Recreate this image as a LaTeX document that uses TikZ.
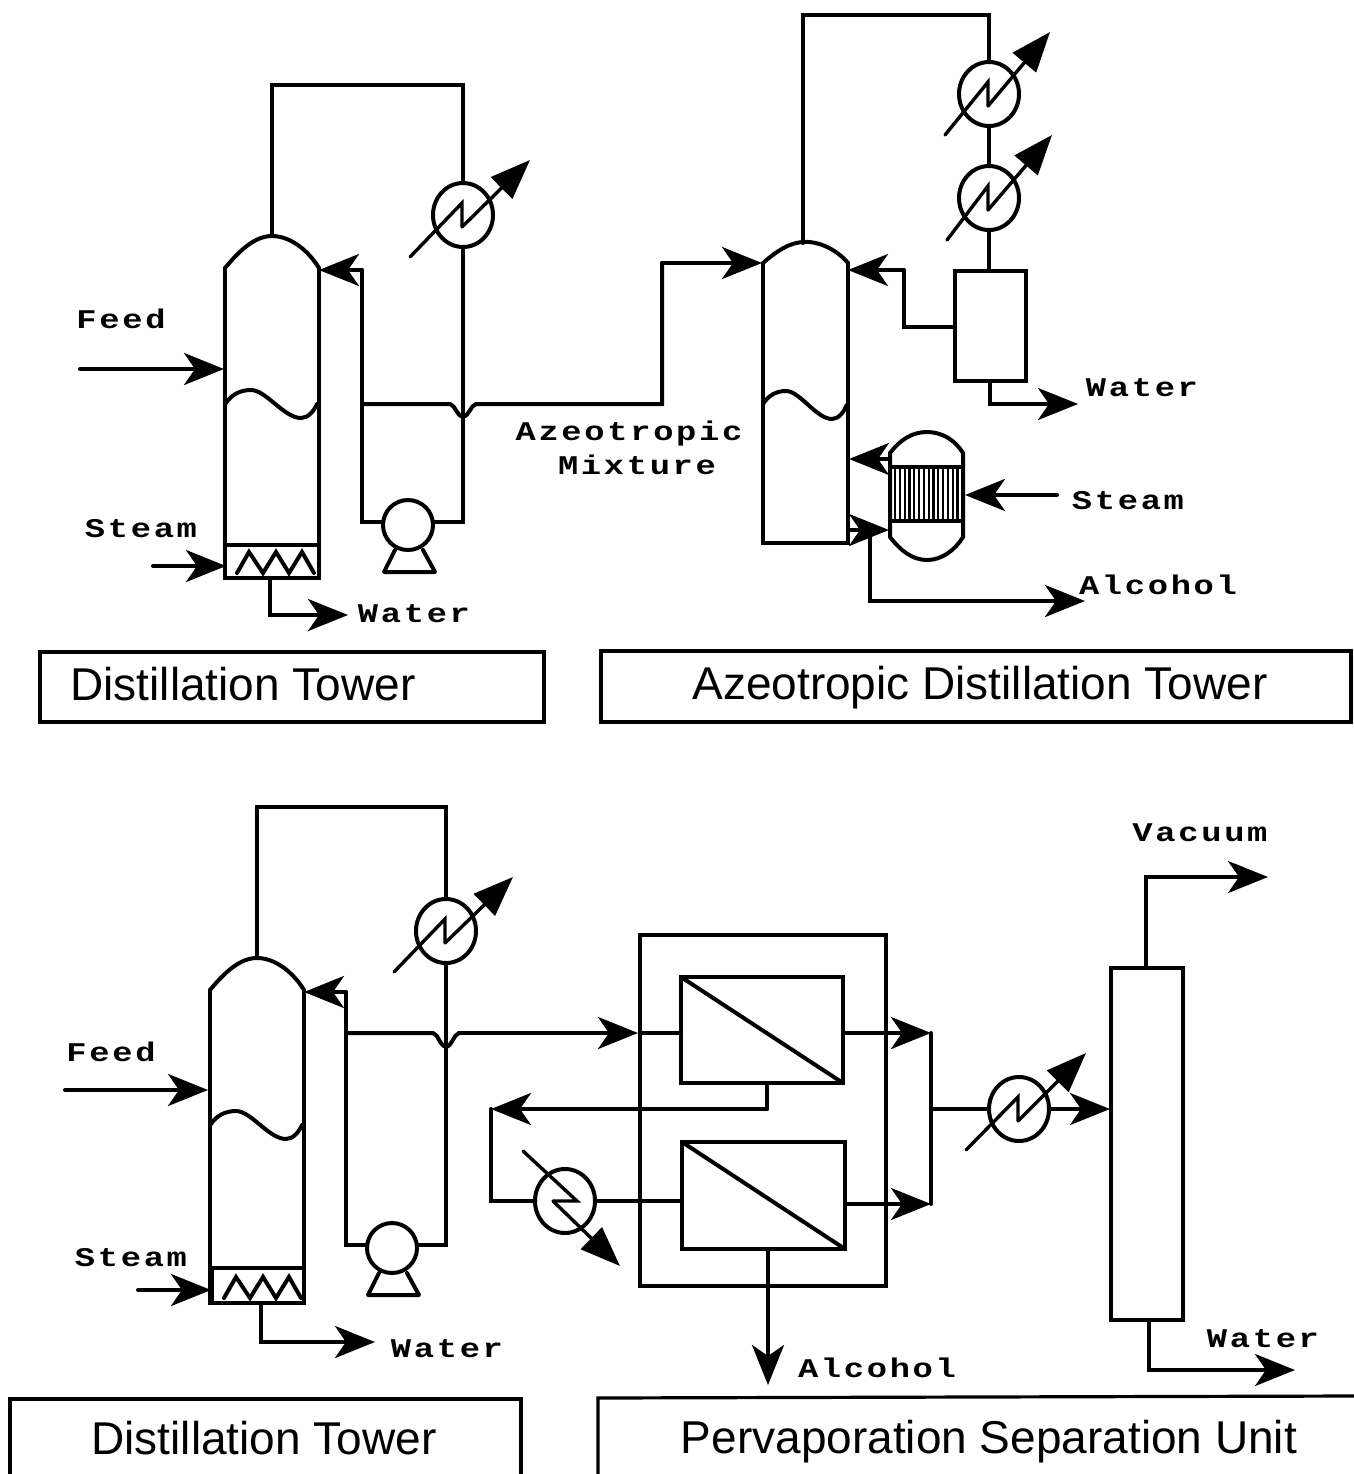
\documentclass[tikz,border=0pt]{standalone}
\usepackage{fontspec}
\setmainfont{Liberation Sans}
\newfontfamily\labfont[LetterSpace=10,FakeStretch=1.25]{Liberation Mono}
\usetikzlibrary{arrows.meta,shapes.geometric,calc}
\tikzset{
  pipe/.style={line width=2pt,line join=miter,line cap=round},
  flow/.style={pipe,-{Stealth[length=20pt,width=16pt,inset=5.5pt]}},
  hotarrow/.style={line width=1.7pt,line join=miter,line cap=round,-{Triangle[length=20pt,width=15pt]}},
  unit/.style={draw,line width=2pt,inner sep=0pt,outer sep=0pt},
  hidden/.style={inner sep=0pt,outer sep=0pt},
  hxnode/.style={draw,ellipse,line width=2pt,inner sep=0pt,outer sep=0pt,minimum width=30pt,minimum height=32pt},
  pumpnode/.style={draw,circle,line width=2pt,inner sep=0pt,outer sep=0pt,minimum size=25pt},
  lab/.style={font=\labfont\bfseries\fontsize{13.5}{15}\selectfont,inner sep=0pt,text height=9pt,text depth=0pt},
  head/.style={font=\fontsize{23}{26}\selectfont,inner sep=0pt,text height=16pt,text depth=0pt},
  framebox/.style={draw,line width=1.6pt,inner sep=0pt,outer sep=0pt}
}
% style, name, x1, y1, x2, y2
\newcommand{\pxbox}[6][unit]{\node[#1,minimum width={(#5-#3)*0.5pt},minimum height={(#6-#4)*0.5pt}] (#2) at ({(#3+#5)/2},{(#4+#6)/2}) {};}
% name, x, y, start dx, dy, tip dx, dy
\newcommand{\hxup}[7]{\node[hxnode] (#1) at (#2,#3) {};
  \draw[pipe,line width=1.7pt] ($(#1.center)+(#4,#5)$) -- ($(#1.center)+(-1,-12)$) -- ($(#1.center)+(-1,12)$);
  \draw[hotarrow] ($(#1.center)+(-1,12)$) -- ($(#1.center)+(#6,#7)$);}
% name, xscale, yscale
\newcommand{\towershape}[3]{
  \draw[pipe] (#1.north west) -- (#1.south west) -- (#1.south east) -- (#1.north east);
  \begin{scope}[shift={(#1.north west)},xscale=#2,yscale=#3]
    \draw[pipe] (0,0) .. controls (15,-18) and (30,-32) .. (47,-32) .. controls (65,-32) and (83,-18) .. (94,0);
  \end{scope}}
% wave starting at x,y
\newcommand{\wave}[2]{\begin{scope}[shift={(#1,#2)}]
  \draw[pipe] (0,0) .. controls (6,-9) and (15,-13) .. (25,-13) .. controls (40,-13) and (58,15) .. (75,15) .. controls (82,15) and (88,8) .. (91,1);
\end{scope}}
\newcommand{\zigzag}[1]{\begin{scope}[shift={(#1)}]
  \draw[pipe] (12,-5) -- (24,-26) -- (38,-5) -- (51,-26) -- (64,-5) -- (77,-26) -- (89,-5);
\end{scope}}
\newcommand{\pumplegs}[1]{\draw[pipe,line join=round] ($(#1.center)+(-13,25)$) -- ($(#1.center)+(-24,47)$) -- ($(#1.center)+(27,47)$) -- ($(#1.center)+(15,25)$);}
\begin{document}
\begin{tikzpicture}[x=0.5pt,y=-0.5pt]
\useasboundingbox (0,0) rectangle (1354,1474);

% ---------- top-left distillation tower
\pxbox[hidden]{Ta}{225}{268}{319}{578}
\towershape{Ta}{1}{1}
\wave{226}{403}
\pxbox{Tar}{225}{545}{319}{578}
\zigzag{Tar.south west}
\hxup{hxa}{463}{215}{-53}{42}{67}{-55}
\node[pumpnode] (pa) at (408,525) {};
\pumplegs{pa}
\coordinate (a1) at (272,236);
\coordinate (a2) at (463,85);
\draw[pipe] (a1) |- (a2) -- (hxa.north);
\coordinate (a3) at (463,522);
\coordinate (a3p) at (433,522);
\coordinate (a4) at (383,522);
\draw[pipe] (hxa.south) -- (a3) -- (a3p);
\coordinate (a5) at (362,522);
\coordinate (a6) at (362,270);
\coordinate (a7) at (319,270);
\draw[pipe] (a4) -- (a5) -- (a6);
\draw[flow] (a6) -- (a7);
\coordinate (b1) at (362,404);
\coordinate (b2) at (450,404);
\coordinate (b3) at (463,417);
\coordinate (b4) at (476,404);
\coordinate (b5) at (662,404);
\coordinate (b6) at (662,263);
\coordinate (b7) at (762,263);
\draw[pipe] (b1) -- (b2) .. controls (456,406) and (456,415) .. (b3) .. controls (470,415) and (470,406) .. (b4) -- (b5) -- (b6);
\draw[flow] (b6) -- (b7);
\coordinate (f0) at (80,369);
\coordinate (f1) at (224,369);
\draw[flow] (f0) -- (f1);
\coordinate (s0) at (153,566);
\coordinate (s1) at (226,566);
\draw[flow] (s0) -- (s1);
\coordinate (w0) at (270,578);
\coordinate (w1) at (348,615);
\draw[flow] (w0) |- (w1);
\node[lab] (lfeeda) at (121,319) {Feed};
\node[lab] (lsteama) at (141,528) {Steam};
\node[lab] (lwatera) at (414,613) {Water};
\node[lab] (laz) at (629,431) {Azeotropic};
\node[lab] (lmix) at (637,465) {Mixture};

% ---------- top-right azeotropic tower
\pxbox[hidden]{Tb}{763}{263}{848}{543}
\towershape{Tb}{0.904}{0.66}
\begin{scope}[shift={(763,404)},xscale=0.92]\draw[pipe] (0,0) .. controls (6,-9) and (15,-13) .. (25,-13) .. controls (40,-13) and (58,15) .. (75,15) .. controls (82,15) and (88,8) .. (91,1);\end{scope}
\hxup{hxb}{989}{94}{-44}{41}{61}{-62}
\hxup{hxc}{989}{198}{-42}{42}{63}{-63}
\pxbox{sep}{955}{271}{1026}{381}
\coordinate (c1) at (803,243);
\coordinate (c2) at (989,15);
\draw[pipe] (c1) |- (c2) -- (hxb.north);
\draw[pipe] (hxb.south) -- (hxc.north);
\coordinate (c3) at (989,271);
\draw[pipe] (hxc.south) -- (c3);
\coordinate (c4) at (955,327);
\coordinate (c5) at (904,327);
\coordinate (c6) at (904,270);
\coordinate (c7) at (848,270);
\draw[pipe] (c4) -- (c5) -- (c6);
\draw[flow] (c6) -- (c7);
\coordinate (c8) at (990,381);
\coordinate (c9) at (1078,404);
\draw[flow] (c8) |- (c9);
% reboiler
\pxbox[hidden]{rb}{890}{453}{963}{537}
\draw[pipe] (rb.south west) -- (rb.north west) .. controls (900,440) and (912,432) .. (927,432) .. controls (942,432) and (955,440) .. (rb.north east) -- (rb.south east) .. controls (955,550) and (942,560) .. (927,560) .. controls (912,560) and (900,550) .. (rb.south west);
\pxbox{band}{890}{467}{963}{521}
\foreach \i in {0,...,13} {\draw[line width=1.1pt] ({895+\i*4.8},467) -- ({895+\i*4.8},521);}
\coordinate (d1) at (890,459);
\coordinate (d2) at (849,459);
\draw[flow] (d1) -- (d2);
\coordinate (d3) at (1057,495);
\coordinate (d4) at (965,495);
\draw[flow] (d3) -- (d4);
\coordinate (d5) at (848,530);
\coordinate (d6) at (889,530);
\draw[flow] (d5) -- (d6);
\coordinate (d7) at (870,530);
\coordinate (d8) at (1085,601);
\draw[flow] (d7) |- (d8);
\node[lab] (lwaterb) at (1142,387) {Water};
\node[lab] (lsteamb) at (1128,500) {Steam};
\node[lab] (lalcb) at (1158,585) {Alcohol};

% ---------- heading boxes, top
\pxbox[framebox]{ha}{40}{652}{544}{722}
\pxbox[framebox]{hb}{601}{651}{1351}{722}
\node[head] (tha) at (243,684) {Distillation Tower};
\node[head] (thb) at (980,683) {Azeotropic Distillation Tower};

% ---------- bottom-left distillation tower
\pxbox[hidden]{Tc}{210}{990}{304}{1303}
\towershape{Tc}{1}{1}
\wave{211}{1124}
\pxbox{Tcr}{212}{1268}{304}{1303}
\zigzag{Tcr.south west}
\hxup{hxd}{446}{931}{-52}{41}{67}{-54}
\node[pumpnode] (pc) at (392,1248) {};
\pumplegs{pc}
\coordinate (e1) at (257,957);
\coordinate (e2) at (446,807);
\draw[pipe] (e1) |- (e2) -- (hxd.north);
\coordinate (e3) at (446,1245);
\coordinate (e3p) at (417,1245);
\coordinate (e4) at (367,1245);
\coordinate (e5) at (346,1245);
\coordinate (e6) at (346,992);
\coordinate (e7) at (304,992);
\draw[pipe] (hxd.south) -- (e3) -- (e3p);
\draw[pipe] (e4) -- (e5) -- (e6);
\draw[flow] (e6) -- (e7);
\coordinate (g1) at (346,1033);
\coordinate (g2) at (433,1033);
\coordinate (g3) at (446,1047);
\coordinate (g4) at (459,1033);
\coordinate (g5) at (638,1033);
\draw[pipe] (g1) -- (g2) .. controls (439,1035) and (439,1045) .. (g3) .. controls (453,1045) and (453,1035) .. (g4);
\draw[flow] (g4) -- (g5);
\coordinate (h0) at (65,1090);
\coordinate (h1) at (208,1090);
\draw[flow] (h0) -- (h1);
\coordinate (h2) at (138,1290);
\coordinate (h3) at (211,1290);
\draw[flow] (h2) -- (h3);
\coordinate (h4) at (261,1303);
\coordinate (h5) at (375,1342);
\draw[flow] (h4) |- (h5);
\node[lab] (lfeedc) at (111,1052) {Feed};
\node[lab] (lsteamc) at (131,1257) {Steam};
\node[lab] (lwaterc) at (447,1348) {Water};

% ---------- pervaporation unit
\pxbox{outer}{640}{935}{886}{1286}
\pxbox{ma}{681}{977}{843}{1083}
\pxbox{mb}{682}{1142}{845}{1249}
\draw[pipe] (ma.north west) -- (ma.south east);
\draw[pipe] (mb.north west) -- (mb.south east);
\coordinate (i1) at (640,1033);
\coordinate (i2) at (681,1033);
\draw[pipe] (i1) -- (i2);
\coordinate (j1) at (843,1033);
\coordinate (j2) at (931,1033);
\coordinate (j3) at (845,1204);
\coordinate (j4) at (931,1204);
\draw[flow] (j1) -- (j2);
\draw[flow] (j3) -- (j4);
\draw[pipe] (j2) -- (j4);
\hxup{hxe}{1019}{1109}{-53}{41}{67}{-56}
\coordinate (j5) at (931,1109);
\draw[pipe] (j5) -- (hxe.west);
\pxbox{col}{1111}{968}{1183}{1320}
\coordinate (j6) at (1110,1109);
\draw[flow] (hxe.east) -- (j6);
\coordinate (k1) at (1146,968);
\coordinate (k2) at (1268,877);
\draw[flow] (k1) |- (k2);
\coordinate (k3) at (1149,1320);
\coordinate (k4) at (1295,1370);
\draw[flow] (k3) |- (k4);
\coordinate (l1) at (767,1083);
\coordinate (l2) at (767,1109);
\coordinate (l3) at (491,1109);
\draw[pipe] (l1) -- (l2);
\draw[flow] (l2) -- (l3);
\node[hxnode] (hxf) at (565,1201) {};
\coordinate (l4) at (491,1201);
\draw[pipe] (l3) -- (l4) -- (hxf.west);
\coordinate (l5) at (682,1201);
\draw[pipe] (hxf.east) -- (l5);
\draw[pipe,line width=1.7pt] ($(hxf.center)+(-42,-50)$) -- ($(hxf.center)+(12,0)$) -- ($(hxf.center)+(-12,0)$);
\draw[hotarrow] ($(hxf.center)+(-12,0)$) -- ($(hxf.center)+(55,65)$);
\coordinate (m1) at (768,1249);
\coordinate (m2) at (768,1385);
\draw[flow] (m1) -- (m2);
\node[lab] (lalcd) at (877,1368) {Alcohol};
\node[lab] (lvac) at (1200,832) {Vacuum};
\node[lab] (lwaterd) at (1263,1338) {Water};

% ---------- heading boxes, bottom (cut by the page edge)
\coordinate (n1) at (10,1474);
\coordinate (n2) at (10,1399);
\coordinate (n3) at (521,1399);
\coordinate (n4) at (521,1474);
\draw[line width=1.6pt] (n1) -- (n2) -- (n3) -- (n4);
\coordinate (n5) at (598,1474);
\coordinate (n6) at (598,1398);
\coordinate (n7) at (1354,1396);
\draw[line width=1.6pt] (n5) -- (n6) -- (n7);
\node[head] (thc) at (264,1438) {Distillation Tower};
\node[head] (thd) at (989,1437) {Pervaporation Separation Unit};
\end{tikzpicture}
\end{document}
